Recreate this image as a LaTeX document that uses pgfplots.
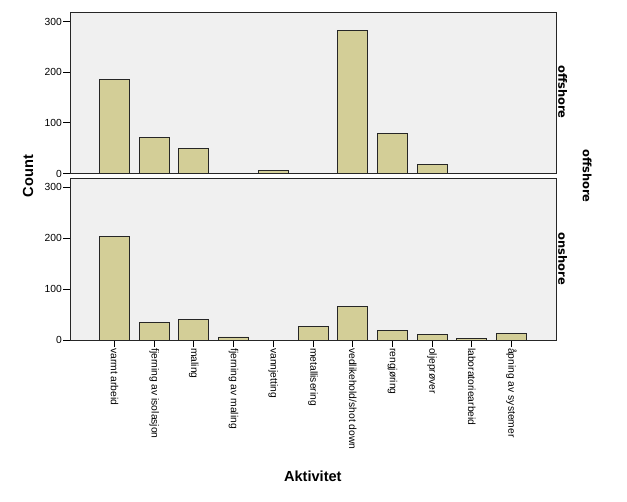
\documentclass[border=0pt]{standalone}
\usepackage{pgfplots}
\pgfplotsset{compat=1.18}
\usepackage{fontspec}
\setmainfont{Liberation Sans}
\newfontfamily\facetfont{DejaVu Sans}
\definecolor{barfill}{HTML}{D3CE97}
\definecolor{panelbg}{HTML}{F0F0F0}
\tikzset{facet/.style={rotate=-90, anchor=south, inner sep=0pt, font=\facetfont\bfseries\fontsize{11.5}{14}\selectfont}}
\begin{document}
\begin{tikzpicture}
\path[use as bounding box] (0pt,0pt) rectangle (627pt,502pt);
\pgfplotsset{
  panel/.style={
    scale only axis, width=486pt,
    xmin=-1.12, xmax=11.12, ymin=0, ymax=318,
    axis background/.style={fill=panelbg},
    ybar, bar width=30pt,
    ytick={0,100,200,300},
    xtick pos=lower, ytick pos=left,
    tick align=outside, major tick length=7pt,
    tick style={black, line width=0.8pt},
    axis line style={black!85, line width=0.9pt},
    yticklabel style={font=\fontsize{10.3}{12}\selectfont, inner sep=1pt},
    /pgf/number format/assume math mode=true,
    every axis plot post/.append style={fill=barfill, draw=black!85, line width=0.8pt},
  }
}
% top panel: offshore
\begin{axis}[panel, at={(70pt,328.5pt)}, anchor=south west, height=161pt, xtick=\empty]
\addplot coordinates {(0,185) (1,71) (2,50) (4,6) (6,283) (7,79) (8,17)};
\end{axis}
% bottom panel: onshore
\begin{axis}[panel, at={(70pt,162pt)}, anchor=south west, height=162pt,
  xtick={0,1,2,3,4,5,6,7,8,9,10},
  xticklabels={varmt arbeid, fjerning av isolasjon, maling, fjerning av maling, vannjetting, metallisering, vedlikehold/shot down, rengjøring, oljeprøver, laboratoriearbeid, åpning av systemer},
  xticklabel style={rotate=-90, anchor=west, font=\fontsize{10.3}{12}\selectfont, inner sep=1pt}]
\addplot coordinates {(0,203) (1,34) (2,40) (3,6) (5,27) (6,65) (7,18) (8,10) (9,3) (10,12)};
\end{axis}
\node[facet] at (558pt,410pt) {offshore};
\node[facet] at (558pt,243pt) {onshore};
\node[facet] at (582.5pt,326pt) {offshore};
\node[rotate=90, font=\bfseries\fontsize{14.6}{16}\selectfont] at (28pt,326pt) {Count};
\node[font=\bfseries\fontsize{14.6}{16}\selectfont] at (312.8pt,25.3pt) {Aktivitet};
\end{tikzpicture}
\end{document}
